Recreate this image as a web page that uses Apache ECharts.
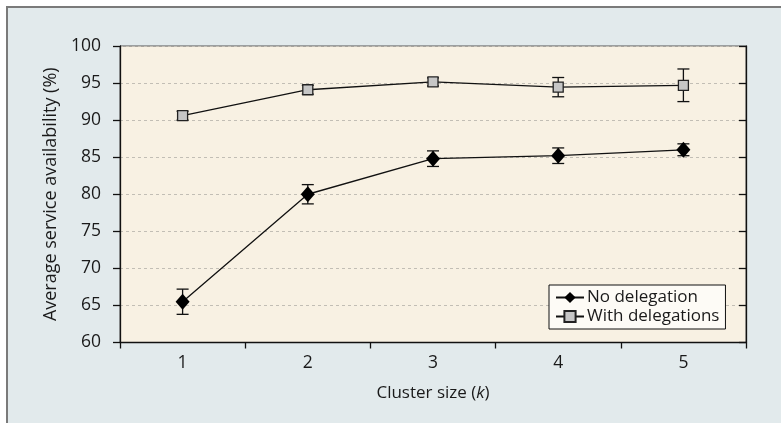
<!DOCTYPE html>
<html>
<head>
<meta charset="utf-8">
<script src="https://cdn.jsdelivr.net/npm/echarts@6/dist/echarts.min.js"></script>
<style>
  html, body { margin: 0; padding: 0; background: #ffffff; }
  #chart { width: 781px; height: 423px; }
</style>
</head>
<body>
<div id="chart"></div>
<script>
// ---- data ----
const categories = ['1', '2', '3', '4', '5'];
const noDelegation = [65.5, 80.0, 84.8, 85.2, 86.0];
const noDelegationErr = [1.7, 1.3, 1.05, 1.05, 0.8];
const withDelegations = [90.6, 94.1, 95.15, 94.45, 94.7];
const withDelegationsErr = [0.6, 0.6, 0.55, 1.3, 2.2];
const yMin = 60, yMax = 100, yStep = 5;

const FONT = '"Open Sans", "Noto Sans", sans-serif';
const TXT = '#1a1a1a';

function errData(vals, errs) {
  return vals.map((v, i) => [i, v - errs[i], v + errs[i]]);
}

function renderErr(params, api) {
  const x = api.value(0);
  const lo = api.coord([x, api.value(1)]);
  const hi = api.coord([x, api.value(2)]);
  const hw = 6;
  const style = { stroke: '#111', lineWidth: 1.3 };
  return {
    type: 'group',
    children: [
      { type: 'line', shape: { x1: lo[0], y1: lo[1], x2: hi[0], y2: hi[1] }, style },
      { type: 'line', shape: { x1: lo[0] - hw, y1: lo[1], x2: lo[0] + hw, y2: lo[1] }, style },
      { type: 'line', shape: { x1: hi[0] - hw, y1: hi[1], x2: hi[0] + hw, y2: hi[1] }, style }
    ]
  };
}

const chart = echarts.init(document.getElementById('chart'), null, { renderer: 'canvas' });
chart.setOption({
  animation: false,
  textStyle: { fontFamily: FONT },
  graphic: [{
    type: 'rect', z: -100, silent: true,
    shape: { x: 7, y: 7, width: 820, height: 460 },
    style: { fill: '#e2eaec', stroke: '#7a7a7a', lineWidth: 2 }
  }],
  grid: {
    left: 120, right: 35, top: 46, bottom: 80.5,
    show: true, backgroundColor: '#f8f1e3', borderColor: '#555', borderWidth: 1
  },
  legend: {
    data: ['No delegation', 'With delegations'],
    orient: 'vertical',
    left: 549, top: 285,
    itemWidth: 28, itemHeight: 14, itemGap: 2,
    padding: [4, 6, 4, 6],
    backgroundColor: '#fdfbf6', borderColor: '#111', borderWidth: 1,
    textStyle: { fontFamily: FONT, fontSize: 17, color: TXT, padding: [0, 0, 0, -2], lineHeight: 17 }
  },
  xAxis: {
    type: 'category',
    data: categories,
    boundaryGap: true,
    axisLine: { lineStyle: { color: '#111', width: 1.3 } },
    axisTick: { show: true, length: 6, inside: false, lineStyle: { color: '#111', width: 1.3 } },
    axisLabel: { fontFamily: FONT, fontSize: 17.5, color: TXT, margin: 12 },
    name: 'Cluster size ({i|k})',
    nameLocation: 'middle',
    nameGap: 42,
    nameTextStyle: {
      fontFamily: FONT, fontSize: 17, color: TXT,
      rich: { i: { fontFamily: FONT, fontSize: 17, color: TXT, fontStyle: 'italic' } }
    }
  },
  yAxis: [{
    type: 'value',
    min: yMin, max: yMax, interval: yStep,
    axisLine: { show: true, lineStyle: { color: '#111', width: 1.3 } },
    axisTick: { show: true, length: 7, lineStyle: { color: '#111', width: 1.3 } },
    axisLabel: { fontFamily: FONT, fontSize: 17.5, color: TXT, margin: 19 },
    splitLine: { show: true, lineStyle: { color: '#c2beb5', type: [3, 3], width: 1 } },
    name: 'Average service availability (%)',
    nameLocation: 'middle',
    nameGap: 52,
    nameTextStyle: { fontFamily: FONT, fontSize: 18, color: TXT }
  }, {
    type: 'value', position: 'right',
    min: yMin, max: yMax, interval: yStep,
    axisLine: { show: true, lineStyle: { color: '#111', width: 1.3 } },
    axisTick: { show: true, inside: true, length: 7, lineStyle: { color: '#111', width: 1.3 } },
    axisLabel: { show: false },
    splitLine: { show: false }
  }],
  series: [
    {
      type: 'custom', name: 'errND', renderItem: renderErr, z: 1,
      data: errData(noDelegation, noDelegationErr), silent: true
    },
    {
      type: 'custom', name: 'errWD', renderItem: renderErr, z: 1,
      data: errData(withDelegations, withDelegationsErr), silent: true
    },
    {
      name: 'No delegation', type: 'line', data: noDelegation, z: 3,
      symbol: 'diamond', symbolSize: [14, 16],
      lineStyle: { color: '#111', width: 1.3 },
      itemStyle: { color: '#000', borderColor: '#000', borderWidth: 0 }
    },
    {
      name: 'With delegations', type: 'line', data: withDelegations, z: 3,
      symbol: 'rect', symbolSize: 10,
      lineStyle: { color: '#111', width: 1.3 },
      itemStyle: { color: '#c6c6c6', borderColor: '#222', borderWidth: 1.3 }
    }
  ]
});
</script>
</body>
</html>
